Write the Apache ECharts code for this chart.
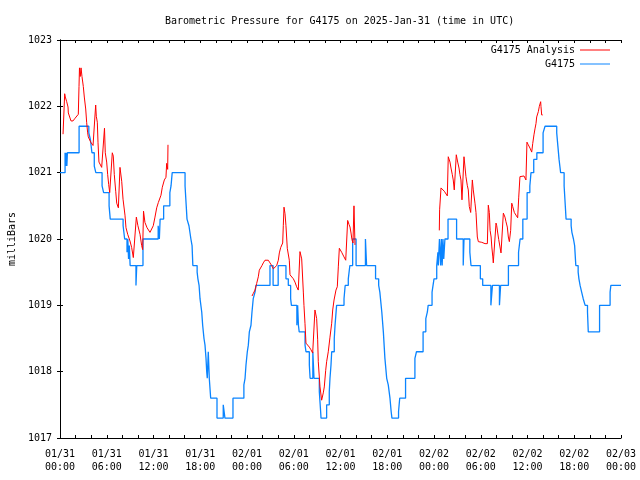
<!DOCTYPE html>
<html>
<head>
<meta charset="utf-8">
<script src="https://cdn.jsdelivr.net/npm/echarts@6/dist/echarts.min.js"></script>
<style>
html,body{margin:0;padding:0;background:#fff;}
#chart{width:640px;height:480px;}
</style>
</head>
<body>
<div id="chart"></div>
<script>
// Hours since 2025-01-31 00:00 UTC
const xTickLabels = ['01/31\n00:00','01/31\n06:00','01/31\n12:00','01/31\n18:00','02/01\n00:00','02/01\n06:00','02/01\n12:00','02/01\n18:00','02/02\n00:00','02/02\n06:00','02/02\n12:00','02/02\n18:00','02/03\n00:00'];
const yTicks = [1017, 1018, 1019, 1020, 1021, 1022, 1023];

// G4175 observations (value held until next change)
const stationData = [
[0,1021.0],[0.65,1021.3],[0.72,1021.1],[0.8,1021.3],[0.88,1021.1],[0.95,1021.3],
[2.45,1021.7],
[3.7,1021.6],[3.9,1021.5],[4.1,1021.3],[4.4,1021.1],[4.6,1021.0],
[5.4,1020.8],[5.6,1020.7],
[6.3,1020.5],[6.45,1020.3],
[8.1,1020.2],[8.3,1020.0],
[8.6,1019.8],[8.7,1020.0],[8.8,1019.7],[8.9,1019.9],[9.0,1019.6],
[9.75,1019.3],[9.85,1019.6],
[10.65,1020.0],
[12.6,1020.2],[12.75,1020.0],[12.85,1020.3],[13.3,1020.5],[14.1,1020.7],[14.25,1020.8],[14.4,1021.0],
[16.05,1020.8],[16.2,1020.5],[16.3,1020.3],[16.55,1020.2],[16.8,1020.0],[16.95,1019.9],[17.05,1019.6],
[17.6,1019.5],[17.7,1019.4],[17.85,1019.3],[17.97,1019.1],[18.19,1018.9],[18.31,1018.7],[18.48,1018.5],[18.61,1018.4],[18.74,1018.2],[18.83,1018.0],[18.9,1017.9],
[19.03,1018.3],[19.16,1017.9],[19.34,1017.6],
[20.15,1017.3],[20.95,1017.5],[21.17,1017.3],[22.2,1017.6],
[23.6,1017.8],[23.75,1017.9],[23.87,1018.1],[24.04,1018.3],[24.17,1018.4],[24.3,1018.6],[24.51,1018.7],[24.64,1018.9],[24.8,1019.1],[25.03,1019.2],[25.15,1019.3],
[26.95,1019.6],[27.35,1019.3],[28.0,1019.6],[29.0,1019.4],[29.3,1019.3],[29.6,1019.1],[29.7,1019.0],
[30.4,1018.7],[30.5,1019.0],[30.6,1018.7],[30.7,1018.6],
[31.45,1018.4],[31.57,1018.3],[32.0,1018.1],[32.1,1017.9],[32.45,1018.3],[32.6,1017.9],
[33.28,1017.7],[33.45,1017.4],[33.5,1017.3],
[34.22,1017.5],[34.56,1017.7],[34.65,1017.9],[34.78,1018.1],[34.87,1018.3],[35.2,1018.5],[35.3,1018.7],[35.5,1019.0],
[36.45,1019.1],[36.6,1019.3],[37.0,1019.4],[37.2,1019.6],[37.56,1020.0],[38.0,1019.6],[39.2,1020.0],[39.35,1019.6],
[40.5,1019.4],[40.9,1019.3],[41.05,1019.2],[41.3,1018.9],[41.5,1018.6],[41.7,1018.2],[41.93,1017.9],[42.13,1017.8],[42.35,1017.6],[42.5,1017.4],[42.6,1017.3],
[43.45,1017.4],[43.6,1017.6],[44.35,1017.9],[45.55,1018.2],[45.75,1018.3],[46.6,1018.6],[46.95,1018.8],[47.15,1018.9],[47.25,1019.0],[47.75,1019.2],[48.0,1019.4],[48.35,1019.6],
[48.5,1019.8],[48.55,1019.6],[48.7,1020.0],[48.85,1019.6],[48.95,1020.0],[49.05,1019.6],[49.15,1020.0],[49.25,1019.7],[49.4,1020.0],
[49.8,1020.3],[50.9,1020.0],[51.75,1019.6],[51.85,1020.0],[52.6,1019.8],[52.75,1019.6],
[53.95,1019.4],[54.25,1019.3],[55.3,1019.0],[55.5,1019.3],[56.4,1019.0],[56.55,1019.3],[57.55,1019.6],[58.85,1019.8],[59.05,1020.0],[59.4,1020.3],[59.95,1020.7],[60.3,1020.8],[60.45,1021.0],[60.8,1021.2],[61.2,1021.3],[62.0,1021.6],[62.25,1021.7],
[63.75,1021.6],[63.9,1021.4],[64.05,1021.2],[64.15,1021.1],[64.25,1021.0],[64.7,1020.8],[64.85,1020.5],[64.95,1020.3],[65.6,1020.2],[65.7,1020.1],[65.9,1020.0],[66.05,1019.9],[66.15,1019.7],[66.2,1019.6],[66.5,1019.5],[66.6,1019.4],[66.75,1019.3],[66.95,1019.2],[67.15,1019.1],[67.4,1019.0],[67.7,1018.9],[67.8,1018.6],[69.25,1019.0],[70.6,1019.2],[70.7,1019.3],[72,1019.3]
];

// G4175 Analysis, three runs
const analysisRun1 = [
[0.39,1021.58],[0.6,1022.19],[0.68,1022.14],[0.86,1022.07],[1.03,1021.99],[1.07,1021.9],[1.41,1021.78],[1.67,1021.78],[1.93,1021.82],[2.14,1021.84],[2.35,1021.88],
[2.44,1022.3],[2.5,1022.58],[2.6,1022.45],[2.7,1022.58],[2.82,1022.45],[2.99,1022.3],[3.12,1022.14],[3.3,1021.96],[3.42,1021.76],[3.55,1021.6],[3.63,1021.54],[3.94,1021.46],[4.24,1021.41],[4.49,1021.39],
[4.58,1022.02],[4.66,1021.85],[4.79,1021.76],[4.88,1021.45],[5.0,1021.16],[5.35,1021.08],[5.56,1021.07],[5.71,1021.67],[5.81,1021.3],[5.99,1021.16],[6.12,1020.97],[6.25,1020.82],[6.38,1020.7],[6.55,1020.7],
[6.71,1021.3],[6.84,1021.25],[6.97,1020.97],[7.15,1020.72],[7.28,1020.54],[7.49,1020.47],[7.7,1021.08],[7.92,1020.87],[8.09,1020.6],[8.34,1020.36],[8.47,1020.17],[8.69,1020.07],[8.98,1019.97],[9.2,1019.87],[9.41,1019.72],[9.63,1019.72],
[9.8,1020.33],[10.0,1020.2],[10.27,1020.07],[10.48,1019.9],[10.61,1019.84],[10.72,1020.42],[10.9,1020.25],[11.17,1020.17],[11.55,1020.1],[11.77,1020.1],[11.97,1020.2],[12.19,1020.33],[12.41,1020.47],[12.62,1020.55],[12.96,1020.66],[13.13,1020.78],[13.39,1020.89],[13.6,1020.93],[13.69,1021.14],[13.82,1021.05],[13.86,1021.42]
];
const analysisRun2 = [
[24.64,1019.14],[24.81,1019.18],[25.03,1019.23],[25.24,1019.33],[25.45,1019.43],[25.58,1019.53],[25.75,1019.55],[25.92,1019.6],[26.09,1019.64],[26.31,1019.68],[26.53,1019.71],[26.73,1019.68],[26.95,1019.64],[27.17,1019.6],[27.38,1019.55],[27.59,1019.55],[27.81,1019.6],[28.02,1019.68],[28.15,1019.79],[28.32,1019.87],[28.58,1019.94],
[28.66,1020.2],[28.75,1020.48],[28.88,1020.38],[29.0,1020.2],[29.17,1019.86],[29.43,1019.68],[29.52,1019.46],[29.73,1019.43],[29.95,1019.4],[30.16,1019.35],[30.37,1019.28],[30.58,1019.23],
[30.8,1019.81],[31.02,1019.7],[31.23,1019.2],[31.31,1019.0],[31.44,1018.73],[31.57,1018.43],[31.74,1018.4],[32.0,1018.37],[32.21,1018.33],[32.43,1018.28],
[32.72,1018.93],[32.94,1018.8],[33.07,1018.48],[33.15,1018.15],[33.28,1017.92],[33.37,1017.77],[33.58,1017.57],[33.71,1017.57],[33.79,1017.68],[33.92,1017.77],[34.1,1018.02],[34.22,1018.15],[34.43,1018.3],[34.65,1018.52],[34.87,1018.73],[35.0,1018.93],[35.17,1019.08],[35.42,1019.23],[35.59,1019.28],
[35.72,1019.58],[35.85,1019.86],[36.02,1019.84],[36.15,1019.8],[36.28,1019.78],[36.45,1019.73],[36.67,1019.68],[36.8,1019.65],[36.92,1020.28],[37.0,1020.26],[37.09,1020.22],[37.22,1020.18],[37.35,1020.09],[37.47,1019.99],[37.6,1019.94],[37.73,1020.5],[37.86,1019.91]
];
const analysisRun3 = [
[48.68,1020.13],[48.72,1020.44],[48.9,1020.77],[49.11,1020.75],[49.32,1020.72],[49.54,1020.69],[49.71,1020.65],
[49.83,1021.24],[50.05,1021.16],[50.18,1021.07],[50.35,1020.97],[50.47,1020.89],[50.6,1020.74],[50.73,1020.75],
[50.86,1021.27],[51.04,1021.16],[51.21,1021.07],[51.33,1020.97],[51.46,1020.89],[51.59,1020.59],
[51.85,1021.24],[52.1,1020.94],[52.27,1020.81],[52.4,1020.74],[52.53,1020.49],[52.71,1020.4],
[52.92,1020.89],[53.04,1020.74],[53.26,1020.54],[53.39,1020.4],[53.56,1020.03],[53.69,1019.96],[54.13,1019.95],[54.55,1019.93],[54.85,1019.93],
[54.97,1020.51],[55.1,1020.4],[55.2,1020.13],[55.33,1020.03],[55.42,1019.88],[55.55,1019.73],[55.61,1019.64],[55.83,1019.65],
[55.96,1020.24],[56.05,1020.2],[56.18,1020.09],[56.31,1019.99],[56.47,1019.88],[56.6,1019.79],[56.73,1019.76],
[56.9,1020.39],[57.11,1020.33],[57.24,1020.26],[57.41,1020.18],[57.54,1020.03],[57.67,1019.96],
[57.84,1020.13],[57.98,1020.54],[58.1,1020.49],[58.31,1020.4],[58.52,1020.36],[58.74,1020.32],
[58.87,1020.62],[59.03,1020.94],[59.25,1020.95],[59.55,1020.95],[59.8,1020.89],
[59.93,1021.46],[60.1,1021.42],[60.32,1021.37],[60.54,1021.31],[60.67,1021.44],[60.83,1021.57],[60.96,1021.66],[61.09,1021.74],[61.18,1021.84],[61.39,1021.92],[61.52,1022.0],[61.69,1022.07],[61.73,1022.0],[61.82,1021.87],[61.95,1021.87]
];

const FONT = 'DejaVu Sans Mono';
const RED = '#ff0000';
const BLUE = '#0a84ff';

const chart = echarts.init(document.getElementById('chart'), null, {renderer: 'canvas'});

const axisCommon = {
  axisLine: {show: true, lineStyle: {color: '#000', width: 1}},
  axisTick: {show: true, inside: true, length: 3, lineStyle: {color: '#000'}},
  splitLine: {show: false}
};

const analysisSeries = [analysisRun1, analysisRun2, analysisRun3].map(run => ({
  name: 'G4175 Analysis',
  type: 'line',
  data: run,
  showSymbol: false,
  symbol: 'none',
  lineStyle: {color: RED, width: 1},
  itemStyle: {color: RED},
  z: 3
}));

chart.setOption({
  animation: false,
  backgroundColor: '#fff',
  title: {
    text: 'Barometric Pressure for G4175 on 2025-Jan-31 (time in UTC)',
    left: 160,
    top: 11,
    textStyle: {fontFamily: FONT, fontSize: 10, fontWeight: 'normal', color: '#000'}
  },
  legend: [
    {
      data: ['G4175 Analysis'], right: 30, top: 45, padding: 0, orient: 'vertical', align: 'right',
      icon: 'rect', itemWidth: 30, itemHeight: 1, itemGap: 4,
      textStyle: {fontFamily: FONT, fontSize: 10, color: '#000'}
    },
    {
      data: ['G4175'], right: 30, top: 59, padding: 0, orient: 'vertical', align: 'right',
      icon: 'rect', itemWidth: 30, itemHeight: 1, itemGap: 4,
      textStyle: {fontFamily: FONT, fontSize: 10, color: '#000'}
    }
  ],
  grid: {left: 60, right: 19, top: 40, bottom: 42, containLabel: false, outerBoundsMode: 'none'},
  xAxis: [
    Object.assign({}, axisCommon, {
      type: 'value', min: 0, max: 72, interval: 6, position: 'bottom',
      minorTick: {show: true, splitNumber: 3, length: 3, lineStyle: {color: '#000'}},
      axisLabel: {
        fontFamily: FONT, fontSize: 10, color: '#000', margin: 10, lineHeight: 13,
        formatter: v => xTickLabels[Math.round(v / 6)]
      }
    }),
    Object.assign({}, axisCommon, {
      type: 'value', min: 0, max: 72, interval: 6, position: 'top',
      minorTick: {show: true, splitNumber: 3, length: 3, lineStyle: {color: '#000'}},
      axisLabel: {show: false}
    })
  ],
  yAxis: [
    Object.assign({}, axisCommon, {
      type: 'value', min: yTicks[0], max: yTicks[yTicks.length - 1], interval: 1, position: 'left',
      name: 'milliBars', nameLocation: 'middle', nameGap: 43, nameRotate: 90,
      nameTextStyle: {fontFamily: FONT, fontSize: 10, color: '#000'},
      axisLabel: {fontFamily: FONT, fontSize: 10, color: '#000', margin: 8, formatter: v => String(v)}
    }),
    Object.assign({}, axisCommon, {
      type: 'value', min: yTicks[0], max: yTicks[yTicks.length - 1], interval: 1, position: 'right',
      axisLabel: {show: false}
    })
  ],
  series: [
    {
      name: 'G4175',
      type: 'line',
      data: stationData,
      step: 'end',
      showSymbol: false,
      symbol: 'none',
      lineStyle: {color: BLUE, width: 1.3},
      itemStyle: {color: BLUE},
      z: 2
    }
  ].concat(analysisSeries)
});
</script>
</body>
</html>
